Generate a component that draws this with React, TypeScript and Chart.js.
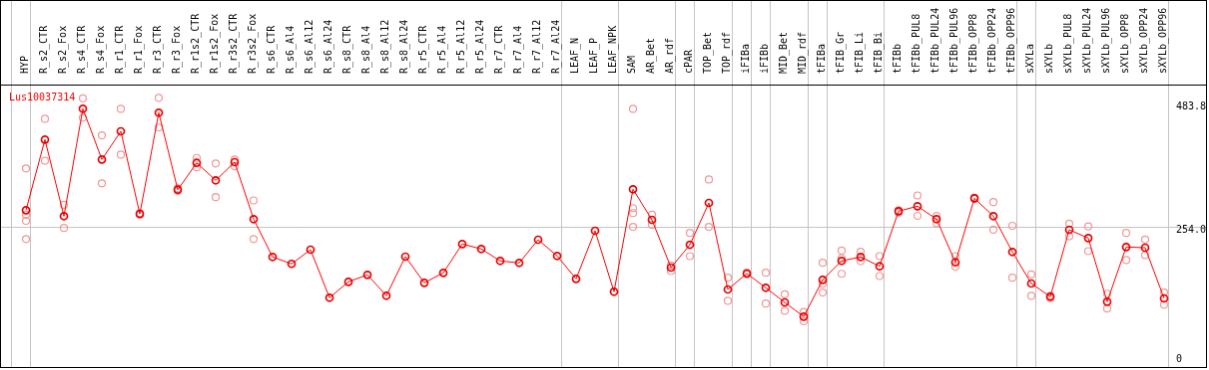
import React, { useEffect, useRef } from "react";
import { Chart, registerables } from "chart.js";

Chart.register(...registerables);

const seriesName = "Lus10037314";

const categories: string[] = [
  "HYP",
  "R_s2_CTR", "R_s2_Fox", "R_s4_CTR", "R_s4_Fox", "R_r1_CTR", "R_r1_Fox", "R_r3_CTR", "R_r3_Fox",
  "R_r1s2_CTR", "R_r1s2_Fox", "R_r3s2_CTR", "R_r3s2_Fox",
  "R_s6_CTR", "R_s6_Al4", "R_s6_Al12", "R_s6_Al24",
  "R_s8_CTR", "R_s8_Al4", "R_s8_Al12", "R_s8_Al24",
  "R_r5_CTR", "R_r5_Al4", "R_r5_Al12", "R_r5_Al24",
  "R_r7_CTR", "R_r7_Al4", "R_r7_Al12", "R_r7_Al24",
  "LEAF_N", "LEAF_P", "LEAF_NPK",
  "SAM", "AR_Bet", "AR_rdf",
  "cPAR",
  "TOP_Bet", "TOP_rdf",
  "iFIBa",
  "iFIBb",
  "MID_Bet", "MID_rdf",
  "tFIBa",
  "tFIB_Gr", "tFIB_Li", "tFIB_Bi",
  "tFIBb", "tFIBb_PUL8", "tFIBb_PUL24", "tFIBb_PUL96", "tFIBb_OPP8", "tFIBb_OPP24", "tFIBb_OPP96",
  "sXYLa",
  "sXYLb", "sXYLb_PUL8", "sXYLb_PUL24", "sXYLb_PUL96", "sXYLb_OPP8", "sXYLb_OPP24", "sXYLb_OPP96",
];

// mean expression per sample (the joined line)
const meanValues: number[] = [
  284.3,
  412.3, 273.5, 468.2, 376.2, 427.3, 277.6, 461.0, 321.4,
  370.1, 338.4, 371.4, 268.1,
  199.6, 187.0, 212.7, 125.7,
  154.5, 167.1, 129.3, 200.1,
  152.7, 170.7, 223.0, 214.0,
  192.4, 188.8, 230.8, 201.4,
  159.9, 247.0, 136.5,
  322.2, 266.8, 180.3,
  221.7,
  297.5, 140.6,
  169.5,
  143.7,
  117.2, 91.4,
  158.1,
  192.4, 199.6, 182.6,
  282.5, 291.5, 268.1, 189.8, 305.9, 273.5, 208.6,
  151.4,
  127.5, 248.8, 233.8, 118.4, 217.6, 216.3, 124.4,
];

// individual replicate values per sample (light circles)
const replicateValues: number[][] = [
  [360, 276, 265, 232],
  [450, 374], [294, 252], [487, 452], [420, 333], [468, 385], [276, 279], [488, 434], [319, 324],
  [379, 362], [369, 308], [376, 364], [302, 232],
  [], [], [], [],
  [], [], [], [],
  [], [], [], [],
  [], [], [], [],
  [], [], [],
  [468, 288, 279, 254], [276, 258], [184, 174],
  [243, 201],
  [340, 254], [162, 120],
  [171, 168],
  [171, 115],
  [132, 102], [100, 83],
  [189, 151, 135],
  [211, 197, 169], [209, 192], [201, 165],
  [284, 280], [311, 274], [274, 261], [201, 182], [307, 305], [299, 249], [256, 162],
  [168, 129],
  [129, 125], [260, 237], [255, 210], [133, 106], [243, 194], [231, 203], [135, 113],
];

// index of the last sample in each group (group separators follow these)
const groupEnds: number[] = [-1, 0, 28, 31, 34, 35, 37, 38, 39, 41, 42, 45, 52, 53, 60];

const yTickValues: number[] = [0, 254.0, 483.8];
const yTickLabels: string[] = ["0", "254.0", "483.8"];
const yAxisMax = 512;

const MONO = "'DejaVu Sans Mono', monospace";

export default function App() {
  const ref = useRef<HTMLCanvasElement | null>(null);

  useEffect(() => {
    if (!ref.current) return;
    const W = 1207;
    const step = 19;
    const firstX = 25;
    const xMin = -firstX / step;
    const xMax = xMin + W / step;

    const lineData = meanValues.map((v, i) => ({ x: i, y: v }));
    const repData = replicateValues.flatMap((arr, i) => arr.map((v) => ({ x: i, y: v })));

    const titlePlugin = {
      id: "seriesTitle",
      afterDraw(chart: any) {
        const { ctx, chartArea } = chart;
        ctx.save();
        ctx.font = `10px ${MONO}`;
        ctx.fillStyle = "#ff0000";
        ctx.textAlign = "left";
        ctx.textBaseline = "alphabetic";
        ctx.fillText(seriesName, chartArea.left + 8, chartArea.top + 15.5);
        ctx.restore();
      },
    };

    const yLineHeights = [1.56, 0.74, 1.28];
    const noPad = (s: any) => {
      s.paddingLeft = 0;
      s.paddingRight = 0;
      s.paddingTop = 0;
      s.paddingBottom = 0;
    };

    const chart = new Chart(ref.current, {
      type: "line",
      data: {
        datasets: [
          {
            label: seriesName,
            data: lineData,
            borderColor: "#ff0000",
            borderWidth: 1,
            pointRadius: 3.5,
            pointBorderWidth: 1.7,
            pointBorderColor: "#e80000",
            pointBackgroundColor: "rgba(0,0,0,0)",
            xAxisID: "x",
            yAxisID: "y",
          } as any,
          {
            type: "scatter",
            label: "replicates",
            data: repData,
            showLine: false,
            pointRadius: 3.5,
            pointBorderWidth: 1.2,
            pointBorderColor: "#f09898",
            pointBackgroundColor: "rgba(0,0,0,0)",
            xAxisID: "x",
            yAxisID: "y",
          } as any,
        ],
      },
      options: {
        responsive: false,
        animation: false,
        events: [],
        layout: { padding: 0, autoPadding: false },
        plugins: {
          legend: { display: false },
          tooltip: { enabled: false },
          title: { display: false },
        },
        scales: {
          x: {
            type: "linear",
            position: "top",
            min: xMin,
            max: xMax,
            weight: 1,
            afterBuildTicks: (s: any) => {
              s.ticks = categories.map((_, i) => ({ value: i }));
            },
            afterFit: (s: any) => {
              s.height = 84;
              noPad(s);
            },
            ticks: {
              autoSkip: false,
              minRotation: 90,
              maxRotation: 90,
              padding: 3,
              labelOffset: 11.6,
              color: "#000",
              font: { family: MONO, size: 10 },
              callback: (v: any) => categories[v as number] ?? "",
            },
            grid: { display: false },
            border: { display: true, color: "#000", width: 1 },
          },
          xs: {
            type: "linear",
            position: "top",
            min: xMin,
            max: xMax,
            weight: 0,
            afterBuildTicks: (s: any) => {
              s.ticks = groupEnds.map((i) => ({ value: i + 0.245 }));
            },
            afterFit: (s: any) => {
              s.height = 0;
              noPad(s);
            },
            ticks: { display: false },
            grid: { color: "#c4c4c4", lineWidth: 1, drawTicks: true, tickLength: 84 },
            border: { display: false },
          },
          y: {
            type: "linear",
            position: "right",
            min: 0,
            max: yAxisMax,
            afterBuildTicks: (s: any) => {
              s.ticks = yTickValues.map((v) => ({ value: v }));
            },
            afterFit: (s: any) => {
              s.width = 0;
              noPad(s);
            },
            ticks: {
              mirror: true,
              crossAlign: "far",
              padding: 0,
              color: "#000",
              font: (c: any) => ({ family: MONO, size: 10, lineHeight: yLineHeights[c.index] ?? 1.2 }),
              callback: (_v: any, i: number) => (i === 0 ? [yTickLabels[i], ""] : ["", yTickLabels[i]]),
            },
            grid: {
              drawTicks: false,
              color: (c: any) => (c.tick && c.tick.value === 254 ? "#c4c4c4" : "rgba(0,0,0,0)"),
            },
            border: { display: false },
          },
        },
      } as any,
      plugins: [titlePlugin],
    });

    return () => chart.destroy();
  }, []);

  return (
    <div style={{ position: "absolute", left: 0, top: 0, width: 1209, height: 370, background: "#fff" }}>
      <canvas
        ref={ref}
        width={1207}
        height={368}
        style={{ display: "block", border: "1px solid #000", width: 1207, height: 368 }}
      />
    </div>
  );
}
